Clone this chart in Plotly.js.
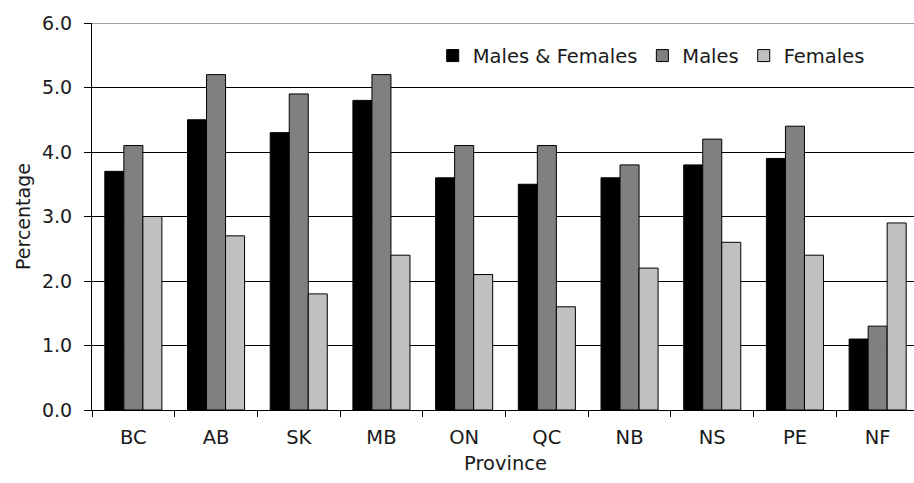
<!DOCTYPE html>
<html>
<head>
<meta charset="utf-8">
<script src="https://cdn.plot.ly/plotly-3.0.1.min.js"></script>
<style>
html,body{margin:0;padding:0;overflow:hidden;background:#fff;width:914px;height:483px;}
#chart{width:920px;height:483px;}
</style>
</head>
<body>
<div id="chart"></div>
<script>
const provinces = ["BC","AB","SK","MB","ON","QC","NB","NS","PE","NF"];
const malesAndFemales = [3.7,4.5,4.3,4.8,3.6,3.5,3.6,3.8,3.9,1.1];
const males = [4.1,5.2,4.9,5.2,4.1,4.1,3.8,4.2,4.4,1.3];
const females = [3.0,2.7,1.8,2.4,2.1,1.6,2.2,2.6,2.4,2.9];
const seriesNames = ["Males & Females","Males","Females"];
const yTickVals = [0,1,2,3,4,5,6];
const yTickText = ["0.0","1.0","2.0","3.0","4.0","5.0","6.0"];

const FONT = "'DejaVu Sans', 'Open Sans', sans-serif";
const TXT = "#1a1a1a";
const colors = ["#000000","#808080","#c0c0c0"];
const data = [malesAndFemales, males, females].map((vals,i)=>({
  type:"bar",
  name: seriesNames[i],
  x: provinces,
  y: vals,
  marker:{color:colors[i], line:{color:"#000000", width:1}},
  hoverinfo:"x+y+name"
}));

const layout = {
  width:920, height:483,
  margin:{l:92, r:1, t:23, b:73},
  paper_bgcolor:"#ffffff", plot_bgcolor:"#ffffff",
  font:{family:FONT, size:19, color:TXT},
  barmode:"group",
  bargap:0.31,
  bargroupgap:0,
  showlegend:true,
  legend:{orientation:"h", x:0.412, xanchor:"left", y:0.915, yanchor:"middle",
          font:{family:FONT, size:19.5, color:TXT}, bgcolor:"rgba(0,0,0,0)",
          itemwidth:30, traceorder:"normal"},
  xaxis:{
    type:"category",
    showline:true, linecolor:"#000000", linewidth:1,
    ticks:"outside", tickson:"boundaries", ticklen:6, tickcolor:"#000000",
    showgrid:false, zeroline:false,
    ticklabelstandoff:10,
    tickfont:{family:FONT, size:19.5, color:TXT},
    title:{text:"Province", font:{family:FONT, size:19.5, color:TXT}, standoff:7}
  },
  yaxis:{
    range:[0,6],
    tickvals:yTickVals, ticktext:yTickText,
    showline:true, linecolor:"#000000", linewidth:1,
    ticks:"outside", ticklen:7, tickcolor:"#000000",
    showgrid:true, gridcolor:"#000000", gridwidth:1,
    zeroline:false,
    ticklabelstandoff:8,
    tickfont:{family:FONT, size:19, color:TXT},
    title:{text:"Percentage", font:{family:FONT, size:19, color:TXT}, standoff:6}
  },
  shapes:[{type:"line", xref:"paper", yref:"y", x0:0, x1:1, y0:6, y1:6,
           line:{color:"#808080", width:1.5}, layer:"above"}]
};

Plotly.newPlot("chart", data, layout, {displayModeBar:false, staticPlot:true});
</script>
</body>
</html>
